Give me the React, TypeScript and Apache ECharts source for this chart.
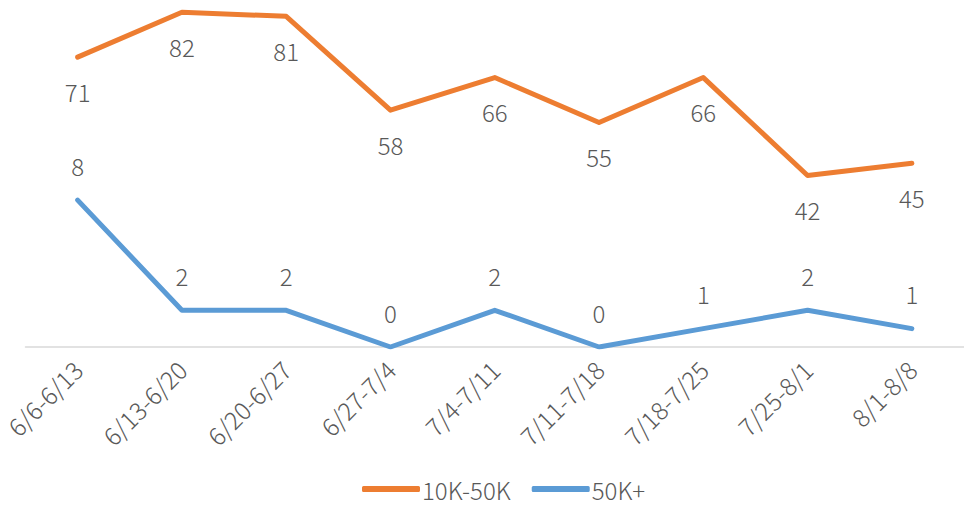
import React, { useEffect, useRef } from "react";
import * as echarts from "echarts";

const categories = ["6/6-6/13", "6/13-6/20", "6/20-6/27", "6/27-7/4", "7/4-7/11", "7/11-7/18", "7/18-7/25", "7/25-8/1", "8/1-8/8"];
const series10K50K = [71, 82, 81, 58, 66, 55, 66, 42, 45];
const series50KPlus = [8, 2, 2, 0, 2, 0, 1, 2, 1];

const FONT = "'Noto Sans CJK JP', 'Noto Sans', sans-serif";
const TEXT = "#595959";
const WEIGHT = 300;

export default function App() {
  const ref = useRef<HTMLDivElement>(null);
  useEffect(() => {
    if (!ref.current) return;
    const chart = echarts.init(ref.current, undefined, { renderer: "svg" });
    chart.setOption({
      animation: false,
      textStyle: { fontFamily: FONT },
      grid: { left: 25.5, right: -7.5, top: 0, bottom: 158, containLabel: false },
      legend: {
        left: 357,
        top: 472,
        itemWidth: 58,
        itemHeight: 6,
        itemGap: 21,
        icon: "roundRect",
        textStyle: { color: TEXT, fontSize: 24, fontFamily: FONT, fontWeight: WEIGHT, padding: [0, 0, 0, -3] },
        data: ["10K-50K", "50K+"],
      },
      xAxis: {
        type: "category",
        data: categories,
        boundaryGap: true,
        axisLine: { show: true, lineStyle: { color: "#d9d9d9", width: 1.5 } },
        axisTick: { show: false },
        axisLabel: { rotate: 45, margin: 18, color: TEXT, fontSize: 24.5, fontFamily: FONT, fontWeight: WEIGHT, interval: 0 },
      },
      yAxis: [
        { type: "value", min: 0, max: 85, show: false, splitLine: { show: false } },
        { type: "value", min: 0, max: 18.9, show: false, splitLine: { show: false } },
      ],
      series: [
        {
          name: "10K-50K",
          type: "line",
          yAxisIndex: 0,
          data: series10K50K,
          symbol: "circle",
          symbolSize: 2,
          itemStyle: { color: "#ED7D31" },
          lineStyle: { color: "#ED7D31", width: 5, cap: "round", join: "round" },
          label: { show: true, position: "bottom", distance: 21, color: TEXT, fontSize: 24, fontFamily: FONT, fontWeight: WEIGHT },
        },
        {
          name: "50K+",
          type: "line",
          yAxisIndex: 1,
          data: series50KPlus,
          symbol: "circle",
          symbolSize: 2,
          itemStyle: { color: "#5B9BD5" },
          lineStyle: { color: "#5B9BD5", width: 5, cap: "round", join: "round" },
          label: { show: true, position: "top", distance: 22, color: TEXT, fontSize: 24, fontFamily: FONT, fontWeight: WEIGHT },
        },
      ],
    });
    return () => chart.dispose();
  }, []);
  return <div ref={ref} style={{ width: 964, height: 505, position: "absolute", left: 0, top: 0 }} />;
}
